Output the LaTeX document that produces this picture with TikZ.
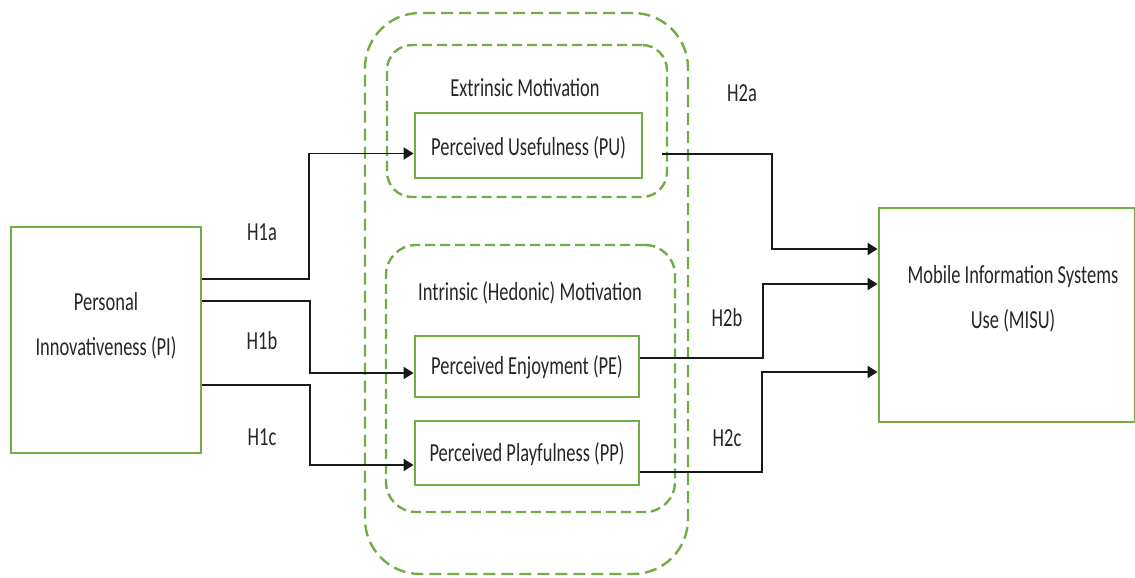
\documentclass[tikz,border=0pt]{standalone}
\usepackage{fontspec}
\setmainfont{Carlito}[FakeStretch=0.71]
\usetikzlibrary{arrows.meta}
\definecolor{grn}{RGB}{112,173,71}
\tikzset{
  box/.style={draw=grn, line width=2.8pt, fill=none, inner sep=0pt},
  boxtext/.style={align=center, inner sep=0pt, text=black!85, font=\fontsize{26}{45}\selectfont},
  grpouter/.style={draw=grn, line width=2.4pt, dash pattern=on 12pt off 6pt, rounded corners=55pt, inner sep=0pt},
  grpinner/.style={draw=grn, line width=2.4pt, dash pattern=on 10pt off 5pt, inner sep=0pt},
  conn/.style={draw=black!90, line width=1.9pt, -{Triangle[length=10pt,width=12pt]}},
  lbl/.style={font=\fontsize{26}{30}\selectfont, text=black!85, inner sep=0pt},
}
\begin{document}
\begin{tikzpicture}[x=1pt,y=-1pt]
\useasboundingbox (0,0) rectangle (1135,578);
% groups
\node[grpouter, minimum width=323pt, minimum height=561pt] (outer) at (526.5,293.5) {};
\node[grpinner, rounded corners=25pt, minimum width=280pt, minimum height=152pt] (gext) at (527,121) {};
\node[grpinner, rounded corners=30pt, minimum width=289pt, minimum height=267pt] (gint) at (530.5,378.5) {};
\node[lbl] (text) at (525,88) {Extrinsic Motivation};
\node[lbl] (tint) at (530,293) {Intrinsic (Hedonic) Motivation};
% boxes
\node[box, minimum width=190pt, minimum height=226pt] (pi) at (106,340) {};
\node[boxtext] (pit) at ([yshift=14pt]pi.center) {Personal\\Innovativeness (PI)};
\node[box, minimum width=227pt, minimum height=65pt] (pu) at (528.5,145.5) {};
\node[boxtext] (put) at ([yshift=-2pt]pu.center) {Perceived Usefulness (PU)};
\node[box, minimum width=224pt, minimum height=61pt] (pe) at (527,366.5) {};
\node[boxtext] (pet) at ([yshift=-1pt]pe.center) {Perceived Enjoyment (PE)};
\node[box, minimum width=224pt, minimum height=64pt] (pp) at (527,453) {};
\node[boxtext] (ppt) at ([yshift=-1pt]pp.center) {Perceived Playfulness (PP)};
\node[box, minimum width=256pt, minimum height=214pt] (misu) at (1007,315) {};
\node[boxtext] (misut) at ([xshift=6pt,yshift=16pt]misu.center) {Mobile Information Systems\\Use (MISU)};
% labels
\node[lbl] (h1a) at (262,232) {H1a};
\node[lbl] (h1b) at (262,341) {H1b};
\node[lbl] (h1c) at (262,437) {H1c};
\node[lbl] (h2a) at (742,93) {H2a};
\node[lbl] (h2b) at (727,318) {H2b};
\node[lbl] (h2c) at (727,438) {H2c};
% connectors
\draw[conn] ([yshift=61pt]pi.east) -- ++(107,0) |- ([yshift=-8pt]pu.west);
\draw[conn] ([yshift=39pt]pi.east) -- ++(108,0) |- ([yshift=-6.5pt]pe.west);
\draw[conn] ([yshift=-45pt]pi.east) -- ++(108,0) |- ([yshift=-12pt]pp.west);
\draw[conn] ([xshift=19pt,yshift=-8.5pt]pu.east) -- ++(110,0) |- ([yshift=66pt]misu.west);
\draw[conn] ([yshift=8.5pt]pe.east) -- ++(123,0) |- ([yshift=31pt]misu.west);
\draw[conn] ([yshift=-19pt]pp.east) -- ++(122,0) |- ([yshift=-57pt]misu.west);
\end{tikzpicture}
\end{document}
